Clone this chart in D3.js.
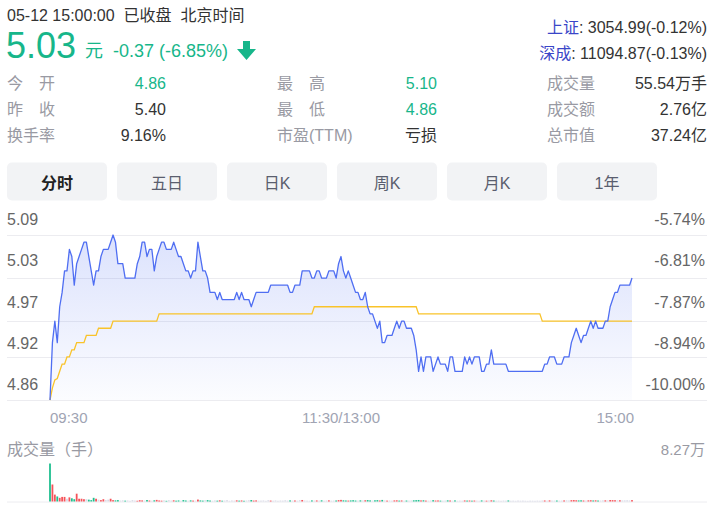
<!DOCTYPE html>
<html><head><meta charset="utf-8">
<script src="https://cdn.jsdelivr.net/npm/d3@7"></script>
<style>
html,body{margin:0;padding:0;background:#fff;}
svg{display:block;font-family:"Liberation Sans",Arial,"Noto Sans CJK SC",sans-serif;}
</style></head><body>
<svg id="c" width="720" height="512"></svg>
<script>
// ---------- data ----------
const prevClose = 5.40;
const timeLabels = ["09:30", "11:30/13:00", "15:00"];
const timeLabelIdx = [0, 120, 240];
const priceTicks = [5.09, 5.03, 4.97, 4.92, 4.86];
const pctTicks = ["-5.74%", "-6.81%", "-7.87%", "-8.94%", "-10.00%"];
const tabs = ["分时", "五日", "日K", "周K", "月K", "1年"];
const volMaxLabel = "8.27万";

const prices = [
4.86,4.94,4.97,4.94,4.99,5.01,5.04,5.04,5.07,5.06,
5.02,5.05,5.06,5.07,5.08,5.08,5.06,5.04,5.02,5.04,
5.04,5.06,5.07,5.07,5.07,5.08,5.09,5.08,5.05,5.05,
5.05,5.03,5.03,5.03,5.03,5.03,5.05,5.06,5.08,5.08,
5.06,5.07,5.07,5.04,5.06,5.07,5.08,5.08,5.07,5.07,
5.07,5.08,5.07,5.06,5.06,5.05,5.04,5.04,5.03,5.04,
5.04,5.08,5.06,5.04,5.04,5.03,5.01,5.01,5.01,5.00,
5.01,5.00,5.00,5.00,5.00,5.00,5.00,5.01,5.00,5.01,
5.00,5.00,5.00,4.99,5.00,5.01,5.01,5.01,5.01,5.01,
5.01,5.02,5.02,5.02,5.02,5.02,5.02,5.02,5.02,5.01,
5.01,5.02,5.02,5.02,5.04,5.04,5.04,5.04,5.03,5.03,
5.04,5.04,5.03,5.03,5.03,5.04,5.04,5.04,5.03,5.05,
5.06,5.04,5.03,5.04,5.03,5.02,5.01,5.01,5.00,5.00,
5.01,4.99,4.98,4.98,4.97,4.96,4.97,4.94,4.94,4.95,
4.95,4.95,4.96,4.97,4.96,4.97,4.97,4.96,4.96,4.96,
4.95,4.93,4.90,4.92,4.90,4.92,4.92,4.92,4.90,4.91,
4.92,4.91,4.91,4.91,4.90,4.92,4.92,4.90,4.90,4.90,
4.90,4.92,4.91,4.92,4.91,4.92,4.92,4.92,4.90,4.90,
4.91,4.91,4.93,4.91,4.91,4.91,4.91,4.91,4.91,4.90,
4.90,4.90,4.90,4.90,4.90,4.90,4.90,4.90,4.90,4.90,
4.90,4.90,4.90,4.90,4.91,4.91,4.92,4.92,4.92,4.91,
4.91,4.91,4.92,4.92,4.92,4.94,4.95,4.96,4.95,4.94,
4.95,4.95,4.96,4.97,4.96,4.97,4.96,4.96,4.96,4.97,
4.97,4.99,5.00,5.01,5.01,5.02,5.02,5.02,5.02,5.02,
5.03];

const avgPrices = [
4.860,4.877,4.888,4.890,4.900,4.910,4.910,4.920,4.920,4.930,
4.930,4.940,4.940,4.940,4.940,4.950,4.950,4.950,4.950,4.950,
4.960,4.960,4.960,4.960,4.960,4.960,4.970,4.970,4.970,4.970,
4.970,4.970,4.970,4.970,4.970,4.970,4.970,4.970,4.970,4.970,
4.970,4.970,4.970,4.970,4.970,4.980,4.980,4.980,4.980,4.980,
4.980,4.980,4.980,4.980,4.980,4.980,4.980,4.980,4.980,4.980,
4.980,4.980,4.980,4.980,4.980,4.980,4.980,4.980,4.980,4.980,
4.980,4.980,4.980,4.980,4.980,4.980,4.980,4.980,4.980,4.980,
4.980,4.980,4.980,4.980,4.980,4.980,4.980,4.980,4.980,4.980,
4.980,4.980,4.980,4.980,4.980,4.980,4.980,4.980,4.980,4.980,
4.980,4.980,4.980,4.980,4.980,4.980,4.980,4.980,4.980,4.990,
4.990,4.990,4.990,4.990,4.990,4.990,4.990,4.990,4.990,4.990,
4.990,4.990,4.990,4.990,4.990,4.990,4.990,4.990,4.990,4.990,
4.990,4.990,4.990,4.990,4.990,4.990,4.990,4.990,4.990,4.990,
4.990,4.990,4.990,4.990,4.990,4.990,4.990,4.990,4.990,4.990,
4.990,4.990,4.980,4.980,4.980,4.980,4.980,4.980,4.980,4.980,
4.980,4.980,4.980,4.980,4.980,4.980,4.980,4.980,4.980,4.980,
4.980,4.980,4.980,4.980,4.980,4.980,4.980,4.980,4.980,4.980,
4.980,4.980,4.980,4.980,4.980,4.980,4.980,4.980,4.980,4.980,
4.980,4.980,4.980,4.980,4.980,4.980,4.980,4.980,4.980,4.980,
4.980,4.980,4.980,4.970,4.970,4.970,4.970,4.970,4.970,4.970,
4.970,4.970,4.970,4.970,4.970,4.970,4.970,4.970,4.970,4.970,
4.970,4.970,4.970,4.970,4.970,4.970,4.970,4.970,4.970,4.970,
4.970,4.970,4.970,4.970,4.970,4.970,4.970,4.970,4.970,4.970,
4.970];

const volumes = [
82700,37000,15000,11000,8000,10000,10000,6000,9000,7000,
5000,17000,6000,6000,5000,5000,4000,3000,8000,6000,
4000,3000,5000,3000,4000,6000,3000,2500,3000,2000,
2500,1800,2200,1500,3000,2000,1600,2800,2400,1900,
3200,2100,1700,2600,3500,2200,1800,2400,1500,2900,
2000,2600,1800,2300,1600,3100,2200,1700,2500,2000,
1800,4200,2400,1900,2700,3000,2100,1600,2300,1800,
2600,1700,2000,2900,1500,2200,1800,2500,1900,2300,
1600,2100,2700,3200,2000,2400,1700,1900,2200,1500,
2800,2000,1700,2300,1600,2100,1900,2600,1800,2400,
2000,2200,1700,2900,3300,2100,1800,1600,2400,2000,
2300,1900,2600,1700,2100,2500,1800,2000,2200,3000,
3500,2600,2200,2000,2400,2800,2100,1900,2500,2200,
2700,3100,2400,2000,2600,3000,2200,3400,2300,1900,
2100,1800,2400,2600,2000,2300,1700,2100,1900,2200,
2600,2900,3300,2400,2700,2000,1800,2200,2900,2100,
2300,1900,1700,2000,2500,2200,1800,2400,1600,1900,
1700,2300,2000,2200,1800,2100,1900,1600,2400,2000,
1800,2200,2600,2100,1700,1900,1500,2000,1800,2300,
1600,1800,1500,2000,1700,1900,1600,1400,1800,1700,
1500,1900,1600,2100,2200,1800,2400,2000,1900,2100,
1800,2000,2300,2600,2200,2900,3100,2700,2400,2600,
2200,2000,2500,2800,2300,2600,2100,2000,2400,2500,
2300,3200,3000,2800,2500,2700,2300,2400,2600,2200,
3000];

// ---------- drawing ----------
const svg = d3.select("#c");
const GREEN = "#17b68a", GRAYL = "#999aa3", DARK = "#333";

// header
svg.append("text").attr("x",7).attr("y",21).attr("font-size",16).attr("fill",DARK)
  .attr("xml:space","preserve").text("05-12 15:00:00  已收盘  北京时间");
svg.append("text").attr("x",6).attr("y",58).attr("font-size",36).attr("fill",GREEN).text("5.03");
svg.append("text").attr("x",85).attr("y",57).attr("font-size",18).attr("fill",GREEN).text("元");
svg.append("text").attr("x",113).attr("y",57).attr("font-size",18).attr("fill",GREEN).text("-0.37 (-6.85%)");
svg.append("path").attr("fill",GREEN)
  .attr("d","M243,41 L250,41 L250,49 L256,49 L246.5,60 L237,49 L243,49 Z");

const idx1 = svg.append("text").attr("x",707).attr("y",32.5).attr("font-size",16).attr("text-anchor","end");
idx1.append("tspan").attr("fill","#3a46c8").text("上证");
idx1.append("tspan").attr("fill",DARK).text(": 3054.99(-0.12%)");
const idx2 = svg.append("text").attr("x",707).attr("y",59).attr("font-size",16).attr("text-anchor","end");
idx2.append("tspan").attr("fill","#3a46c8").text("深成");
idx2.append("tspan").attr("fill",DARK).text(": 11094.87(-0.13%)");

const rows = [
  [["今　开","4.86",GREEN],["最　高","5.10",GREEN],["成交量","55.54万手",DARK]],
  [["昨　收","5.40",DARK],["最　低","4.86",GREEN],["成交额","2.76亿",DARK]],
  [["换手率","9.16%",DARK],["市盈(TTM)","亏损",DARK],["总市值","37.24亿",DARK]]
];
const colLabelX = [7,277,547], colValX = [166,437,707], rowY = [89,115,141];
rows.forEach((r,ri)=>r.forEach((c,ci)=>{
  svg.append("text").attr("x",colLabelX[ci]).attr("y",rowY[ri]).attr("font-size",16).attr("fill",GRAYL).text(c[0]);
  svg.append("text").attr("x",colValX[ci]).attr("y",rowY[ri]).attr("font-size",16).attr("fill",c[2])
    .attr("text-anchor","end").text(c[1]);
}));

// tabs
const tabG = svg.append("g");
tabs.forEach((t,i)=>{
  tabG.append("rect").attr("x",7+i*110).attr("y",162.5).attr("width",100).attr("height",38)
    .attr("rx",5).attr("fill","#f2f3f5");
  tabG.append("text").attr("x",57+i*110).attr("y",189).attr("text-anchor","middle")
    .attr("font-size",16).attr("font-weight",i===0?"bold":"normal")
    .attr("fill",i===0?"#222":"#5a5e6e").text(t);
});

// scales
const x = d3.scaleLinear().domain([0,240]).range([50,632]);
const y = d3.scaleLinear().domain([4.86,5.09]).range([400,235]);
const labelPos = d3.scalePoint().domain(priceTicks.map(String)).range([235,400]);

// gridlines
svg.append("g").selectAll("line").data(priceTicks).join("line")
  .attr("x1",7).attr("x2",707)
  .attr("y1",d=>Math.round(y(d))+0.5).attr("y2",d=>Math.round(y(d))+0.5)
  .attr("stroke","#ececf0").attr("stroke-width",1);

// y labels
svg.append("g").selectAll("text").data(priceTicks).join("text")
  .attr("x",7).attr("y",d=>labelPos(String(d))-10).attr("font-size",16).attr("fill","#666")
  .text(d=>d.toFixed(2));
svg.append("g").selectAll("text").data(pctTicks).join("text")
  .attr("x",705).attr("y",(d,i)=>labelPos(String(priceTicks[i]))-10).attr("font-size",16)
  .attr("fill","#666").attr("text-anchor","end").text(d=>d);

// x labels
svg.append("g").selectAll("text").data(timeLabels).join("text")
  .attr("x",(d,i)=>x(timeLabelIdx[i]) + (i===2?2:0))
  .attr("y",423).attr("font-size",15).attr("fill","#a0a4b3")
  .attr("text-anchor",(d,i)=>i===0?"start":(i===1?"middle":"end"))
  .text(d=>d);

// area gradient
const defs = svg.append("defs");
const grad = defs.append("linearGradient").attr("id","ag").attr("gradientUnits","userSpaceOnUse")
  .attr("x1",0).attr("y1",235).attr("x2",0).attr("y2",400);
grad.append("stop").attr("offset",0).attr("stop-color","#4f6ef2").attr("stop-opacity",0.2);
grad.append("stop").attr("offset",1).attr("stop-color","#4f6ef2").attr("stop-opacity",0.02);

svg.append("path").datum(prices)
  .attr("d", d3.area().x((d,i)=>x(i)).y0(400).y1(d=>y(d)))
  .attr("fill","url(#ag)");
svg.append("path").datum(avgPrices)
  .attr("d", d3.line().x((d,i)=>x(i)).y(d=>y(d)))
  .attr("fill","none").attr("stroke","#f9c32a").attr("stroke-width",1.3);
svg.append("path").datum(prices)
  .attr("d", d3.line().x((d,i)=>x(i)).y(d=>y(d)))
  .attr("fill","none").attr("stroke","#4f6ef2").attr("stroke-width",1.3).attr("stroke-linejoin","round");

// volume
svg.append("text").attr("x",7).attr("y",455).attr("font-size",16).attr("fill",GRAYL).text("成交量（手）");
svg.append("text").attr("x",705).attr("y",455).attr("font-size",15).attr("fill",GRAYL)
  .attr("text-anchor","end").text(volMaxLabel);
const vy = d3.scaleLinear().domain([0,d3.max(volumes)]).range([501.5,463.5]);
svg.append("line").attr("x1",7).attr("x2",707).attr("y1",502).attr("y2",502)
  .attr("stroke","#ececf0");
svg.append("g").selectAll("rect").data(volumes).join("rect")
  .attr("x",(d,i)=>x(i)-0.9).attr("width",1.8)
  .attr("y",d=>vy(d)).attr("height",d=>501.5-vy(d))
  .attr("fill",(d,i)=>{
    const prev = i===0?prevClose:prices[i-1];
    const diff = prices[i]-prev;
    if (Math.abs(diff)<1e-9) return "#d8d9e6";
    return diff>0 ? "#f5535a" : "#1fbf8f";
  });
</script>
</body></html>
